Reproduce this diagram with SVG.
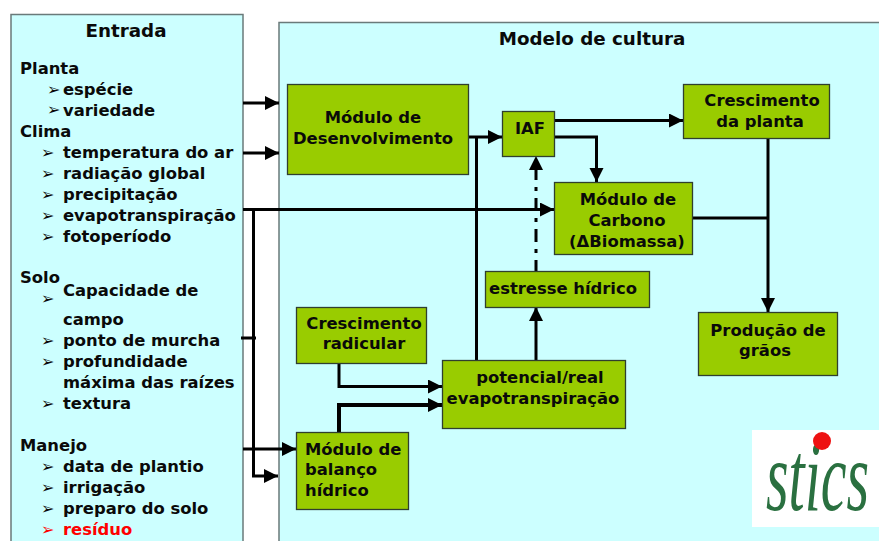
<svg xmlns="http://www.w3.org/2000/svg" width="879" height="541" viewBox="0 0 879 541">
<defs>
<style>
text{font-family:"DejaVu Sans","Liberation Sans",sans-serif;font-weight:700;font-size:16.400px;fill:#0a0a0a}
.m{text-anchor:middle}
.b{font-size:16px}
.h{font-size:18.300px}
.r{fill:#ff0000}
.panel{fill:#ccffff;stroke:#6a7a7a;stroke-width:1.5}
.box{fill:#99cc00;stroke:#2f3f2f;stroke-width:1.3}
.c{fill:none;stroke:#000;stroke-width:3}
.t{stroke-width:4}
.logo{font-family:"Liberation Serif",serif;font-style:italic;font-weight:400;font-size:58px;fill:#2a7040}
</style>
<marker id="a" markerUnits="userSpaceOnUse" markerWidth="15" markerHeight="15" refX="14" refY="7" orient="auto"><path d="M0 0L14 7L0 14Z" fill="#000"/></marker>
</defs>
<rect width="879" height="541" fill="#fff"/>
<g id="entrada">
<rect class="panel" x="11" y="14.500" width="232" height="540"/>
<text class="m h" x="126" y="37">Entrada</text>
<text x="20" y="74">Planta</text>
<text class="b" x="47" y="95">➢</text><text x="63" y="95">espécie</text>
<text class="b" x="47" y="115">➢</text><text x="63" y="116">variedade</text>
<text x="20" y="137">Clima</text>
<text class="b" x="41" y="158">➢</text><text x="63" y="158">temperatura do ar</text>
<text class="b" x="41" y="179">➢</text><text x="63" y="179">radiação global</text>
<text class="b" x="41" y="200">➢</text><text x="63" y="200">precipitação</text>
<text class="b" x="41" y="221">➢</text><text x="63" y="221">evapotranspiração</text>
<text class="b" x="41" y="242">➢</text><text x="63" y="242">fotoperíodo</text>
<text x="20" y="283">Solo</text>
<text class="b" x="41" y="304">➢</text><text x="63" y="296">Capacidade de</text>
<text x="63" y="325">campo</text>
<text class="b" x="41" y="346">➢</text><text x="63" y="346">ponto de murcha</text>
<text class="b" x="41" y="367">➢</text><text x="63" y="367">profundidade</text>
<text x="63" y="388">máxima das raízes</text>
<text class="b" x="41" y="409">➢</text><text x="63" y="409">textura</text>
<text x="20" y="451">Manejo</text>
<text class="b" x="41" y="472">➢</text><text x="63" y="472">data de plantio</text>
<text class="b" x="41" y="493">➢</text><text x="63" y="493">irrigação</text>
<text class="b" x="41" y="514">➢</text><text x="63" y="514">preparo do solo</text>
<text class="b r" x="41" y="535">➢</text><text class="r" x="63" y="535">resíduo</text>
</g>
<g id="modelo">
<rect class="panel" x="279" y="22.500" width="620" height="540"/>
<text class="m h" x="592" y="45">Modelo de cultura</text>
</g>
<g id="connectors">
<path class="c" d="M243 103H279" marker-end="url(#a)"/>
<path class="c" d="M243 153H279" marker-end="url(#a)"/>
<path class="c" d="M243 209.500H554" marker-end="url(#a)"/>
<path class="c" d="M253.500 209.500V476H278" marker-end="url(#a)"/>
<path class="c" d="M241 338H256"/>
<path class="c" d="M243 449H296" marker-end="url(#a)"/>
<path class="c" d="M468 137H502" marker-end="url(#a)"/>
<path class="c" d="M476.500 137V360"/>
<path class="c" d="M554 120.500H683" marker-end="url(#a)"/>
<path class="c" d="M554 137H596.500V182" marker-end="url(#a)"/>
<path class="c" d="M536 271V156" stroke-dasharray="11 7 4 7 13 7 4 7 13 7 4 7 13 100" marker-end="url(#a)"/>
<path class="c" d="M768 138V312" marker-end="url(#a)"/>
<path class="c" d="M692 218H768"/>
<path class="c" d="M339 363V386.500H442" marker-end="url(#a)"/>
<path class="c t" d="M339 432V405H442" marker-end="url(#a)"/>
<path class="c" d="M536 360V307" marker-end="url(#a)"/>
</g>
<g id="desenvolvimento"><rect class="box" x="287.500" y="84.500" width="181" height="90"/>
<text class="m" x="373" y="123">Módulo de</text><text class="m" x="373" y="144">Desenvolvimento</text></g>
<g id="iaf"><rect class="box" x="502.500" y="111.500" width="52" height="45"/>
<text class="m" x="530" y="134">IAF</text></g>
<g id="crescimento-planta"><rect class="box" x="683.500" y="84.500" width="146" height="54"/>
<text class="m" x="762" y="106">Crescimento</text><text class="m" x="760" y="127">da planta</text></g>
<g id="carbono"><rect class="box" x="554.500" y="182.500" width="138" height="72"/>
<text class="m" x="628" y="205">Módulo de</text><text class="m" x="627" y="226">Carbono</text><text class="m" x="627" y="247">(ΔBiomassa)</text></g>
<g id="estresse"><rect class="box" x="485.500" y="271.500" width="164" height="36"/>
<text class="m" x="563" y="294">estresse hídrico</text></g>
<g id="producao"><rect class="box" x="698.500" y="312.500" width="139" height="63"/>
<text class="m" x="768" y="336">Produção de</text><text class="m" x="765" y="356">grãos</text></g>
<g id="radicular"><rect class="box" x="296.500" y="307.500" width="130" height="56"/>
<text class="m" x="364" y="329">Crescimento</text><text class="m" x="364" y="349">radicular</text></g>
<g id="potencial"><rect class="box" x="442.500" y="360.500" width="183" height="68"/>
<text class="m" x="540" y="383">potencial/real</text><text class="m" x="533" y="404">evapotranspiração</text></g>
<g id="balanco"><rect class="box" x="296.500" y="432.500" width="112" height="77"/>
<text x="305" y="455">Módulo de</text><text x="305" y="475">balanço</text><text x="305" y="496">hídrico</text></g>
<g id="logo"><rect x="752" y="430" width="127" height="97" fill="#fff"/>
<text class="logo" transform="translate(766 510) scale(1 1.700)">stics</text>
<circle cx="822" cy="441" r="9" fill="#ee1111"/></g>
</svg>
